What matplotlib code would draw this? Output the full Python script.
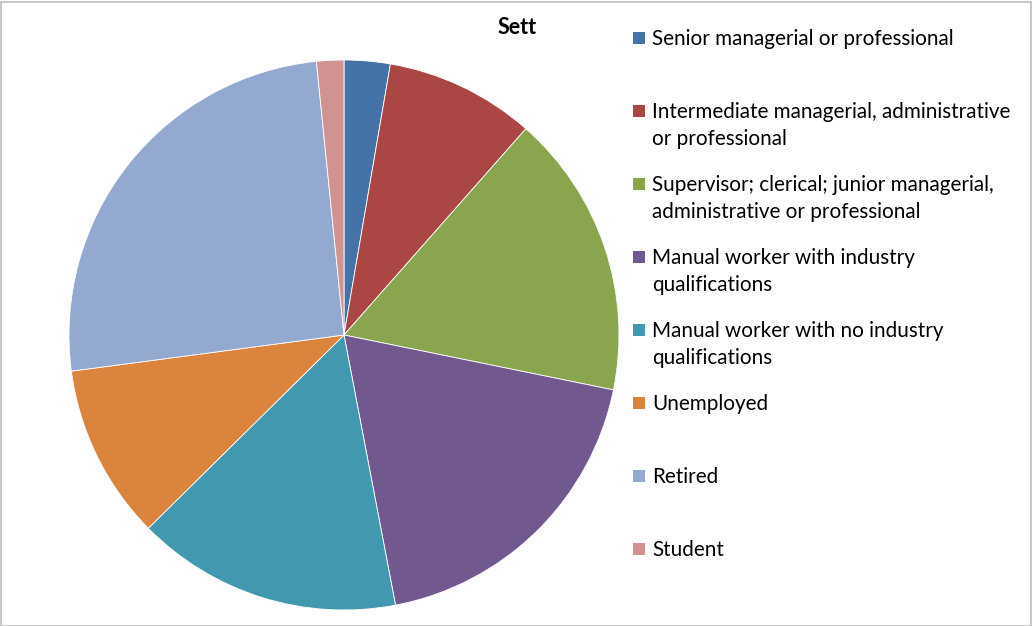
import matplotlib
matplotlib.use("Agg")
import matplotlib.pyplot as plt
from matplotlib.patches import Rectangle

title = "Sett"
labels = [
    "Senior managerial or professional",
    "Intermediate managerial, administrative\nor professional",
    "Supervisor; clerical; junior managerial,\nadministrative or professional",
    "Manual worker with industry\nqualifications",
    "Manual worker with no industry\nqualifications",
    "Unemployed",
    "Retired",
    "Student",
]
values = [2.7, 8.8, 16.7, 18.8, 15.6, 10.3, 25.5, 1.6]
colors = ["#4572A7", "#AA4643", "#89A54E", "#71588F", "#4198AF",
          "#DB843D", "#93A9CF", "#D19392"]

W, H = 1032, 626
fig = plt.figure(figsize=(W / 100, H / 100), dpi=100)
fig.patch.set_facecolor("white")

# pie axes: centre (344, 335) px, radius 275 px
cx, cy, r = 344, 335, 275
ax = fig.add_axes([(cx - r) / W, (H - cy - r) / H, 2 * r / W, 2 * r / H])
ax.pie(values, colors=colors, startangle=90, counterclock=False, radius=1,
       wedgeprops=dict(edgecolor="white", linewidth=0.6))
ax.set_xlim(-1, 1)
ax.set_ylim(-1, 1)
ax.set_aspect("auto")
ax.axis("off")

font = "Lato"
fig.text(517 / W, 1 - 28 / H, title, ha="center", va="center",
         fontsize=15.5, fontweight="bold", family=font)

# legend
y0 = 38
step = 73
for i, (lab, col) in enumerate(zip(labels, colors)):
    yc = y0 + i * step
    fig.patches.append(Rectangle((633 / W, 1 - (yc + 6) / H), 12 / W, 12 / H,
                                 transform=fig.transFigure, facecolor=col,
                                 edgecolor="none"))
    fig.text(652 / W, 1 - (yc - 9) / H, lab, ha="left", va="top",
             fontsize=14.9, family=font, color="black", linespacing=1.45)

# outer border
fig.patches.append(Rectangle((0.5 / W, 0.5 / H), (W - 2) / W, (H - 2) / H,
                             transform=fig.transFigure, facecolor="none",
                             edgecolor="#BFBFBF", linewidth=1.2))

fig.savefig("out.png", dpi=100)
